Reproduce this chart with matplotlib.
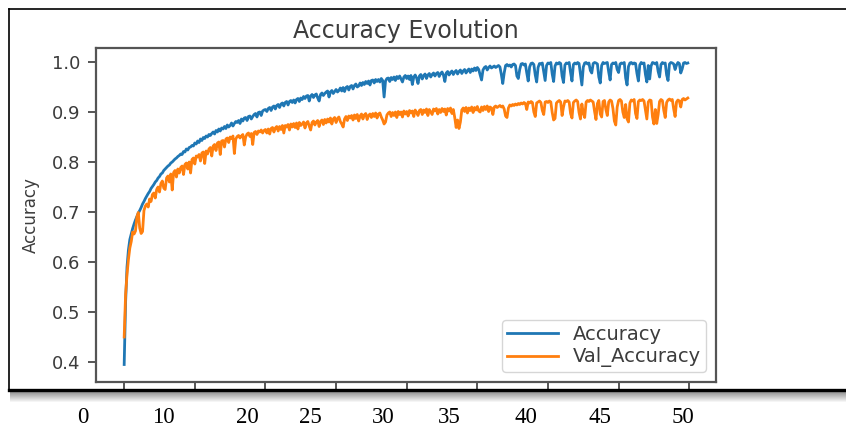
import matplotlib
matplotlib.use('Agg')
import matplotlib.pyplot as plt
from matplotlib.lines import Line2D
from matplotlib.patches import Rectangle

# training accuracy per step
accuracy = [
    0.395, 0.520, 0.590, 0.624, 0.645, 0.656, 0.667, 0.676, 0.684, 0.691, 0.698, 0.703, 0.709, 0.716, 0.721, 0.727, 0.732, 0.737, 0.741, 0.747,
    0.751, 0.755, 0.760, 0.763, 0.768, 0.771, 0.776, 0.778, 0.783, 0.786, 0.789, 0.792, 0.794, 0.798, 0.800, 0.803, 0.806, 0.808, 0.811, 0.813,
    0.816, 0.815, 0.821, 0.820, 0.826, 0.824, 0.829, 0.830, 0.833, 0.832, 0.838, 0.836, 0.842, 0.839, 0.846, 0.843, 0.849, 0.847, 0.852, 0.850,
    0.855, 0.853, 0.857, 0.860, 0.856, 0.863, 0.860, 0.866, 0.862, 0.868, 0.866, 0.871, 0.867, 0.874, 0.870, 0.873, 0.878, 0.872, 0.877, 0.881,
    0.879, 0.883, 0.877, 0.886, 0.882, 0.888, 0.889, 0.883, 0.891, 0.892, 0.886, 0.891, 0.895, 0.897, 0.890, 0.899, 0.900, 0.893, 0.902, 0.904,
    0.905, 0.901, 0.907, 0.909, 0.903, 0.910, 0.912, 0.906, 0.913, 0.915, 0.909, 0.916, 0.918, 0.912, 0.919, 0.921, 0.914, 0.921, 0.923, 0.919,
    0.924, 0.918, 0.925, 0.927, 0.921, 0.928, 0.925, 0.931, 0.927, 0.932, 0.933, 0.922, 0.932, 0.935, 0.929, 0.934, 0.936, 0.928, 0.922, 0.935,
    0.938, 0.933, 0.937, 0.940, 0.942, 0.930, 0.940, 0.943, 0.937, 0.941, 0.945, 0.940, 0.943, 0.948, 0.942, 0.949, 0.941, 0.949, 0.951, 0.944,
    0.951, 0.953, 0.946, 0.953, 0.956, 0.950, 0.952, 0.958, 0.953, 0.959, 0.955, 0.961, 0.957, 0.962, 0.954, 0.963, 0.964, 0.958, 0.965, 0.961,
    0.965, 0.960, 0.967, 0.963, 0.930, 0.962, 0.967, 0.968, 0.961, 0.969, 0.965, 0.970, 0.963, 0.971, 0.967, 0.972, 0.966, 0.960, 0.970, 0.973,
    0.967, 0.972, 0.965, 0.973, 0.955, 0.970, 0.974, 0.968, 0.957, 0.972, 0.975, 0.966, 0.973, 0.976, 0.967, 0.974, 0.977, 0.970, 0.975, 0.978,
    0.972, 0.977, 0.979, 0.971, 0.977, 0.980, 0.974, 0.961, 0.978, 0.981, 0.974, 0.979, 0.982, 0.975, 0.980, 0.983, 0.976, 0.981, 0.984, 0.977,
    0.982, 0.985, 0.978, 0.983, 0.986, 0.979, 0.986, 0.982, 0.988, 0.983, 0.989, 0.985, 0.974, 0.964, 0.984, 0.989, 0.991, 0.984, 0.989, 0.992,
    0.988, 0.990, 0.992, 0.989, 0.991, 0.993, 0.990, 0.975, 0.957, 0.978, 0.993, 0.995, 0.992, 0.994, 0.990, 0.995, 0.996, 0.993, 0.972, 0.967,
    0.985, 0.996, 0.997, 0.994, 0.996, 0.978, 0.962, 0.990, 0.997, 0.998, 0.995, 0.974, 0.960, 0.989, 0.997, 0.996, 0.998, 0.981, 0.963, 0.993,
    0.998, 0.997, 0.999, 0.976, 0.961, 0.992, 0.998, 0.996, 0.999, 0.997, 0.972, 0.959, 0.994, 0.998, 0.997, 0.999, 0.979, 0.962, 0.995, 0.998,
    0.996, 0.999, 0.997, 0.975, 0.954, 0.990, 0.998, 0.999, 0.996, 0.998, 0.983, 0.978, 0.997, 0.999, 0.998, 0.996, 0.970, 0.958, 0.993, 0.999,
    0.997, 0.998, 0.999, 0.980, 0.964, 0.995, 0.998, 0.997, 0.999, 0.985, 0.979, 0.996, 0.998, 0.997, 0.999, 0.968, 0.954, 0.991, 0.998, 0.999,
    0.996, 0.998, 0.997, 0.977, 0.962, 0.994, 0.999, 0.997, 0.998, 0.975, 0.960, 0.993, 0.966, 0.992, 0.999, 0.998, 0.996, 0.999, 0.981, 0.970,
    0.995, 0.999, 0.997, 0.998, 0.974, 0.963, 0.996, 0.999, 0.998, 0.996, 0.985, 0.994, 0.999, 0.997, 0.978, 0.986, 0.998, 0.999, 0.997, 0.998,
]

# validation accuracy per step
val_accuracy = [
    0.450, 0.535, 0.575, 0.605, 0.628, 0.641, 0.660, 0.656, 0.662, 0.690, 0.699, 0.668, 0.657, 0.661, 0.703, 0.712, 0.716, 0.710, 0.726, 0.721,
    0.735, 0.738, 0.728, 0.745, 0.750, 0.740, 0.757, 0.762, 0.748, 0.745, 0.768, 0.772, 0.760, 0.776, 0.744, 0.779, 0.783, 0.770, 0.786, 0.778,
    0.789, 0.792, 0.775, 0.795, 0.798, 0.786, 0.800, 0.778, 0.805, 0.808, 0.796, 0.812, 0.810, 0.815, 0.802, 0.818, 0.820, 0.797, 0.822, 0.816,
    0.826, 0.829, 0.812, 0.832, 0.835, 0.823, 0.838, 0.840, 0.815, 0.842, 0.843, 0.830, 0.846, 0.848, 0.839, 0.850, 0.847, 0.852, 0.817, 0.846,
    0.851, 0.853, 0.848, 0.852, 0.855, 0.834, 0.850, 0.856, 0.858, 0.851, 0.857, 0.835, 0.859, 0.861, 0.855, 0.862, 0.860, 0.864, 0.858, 0.863,
    0.865, 0.858, 0.866, 0.856, 0.867, 0.869, 0.860, 0.868, 0.871, 0.862, 0.871, 0.865, 0.873, 0.858, 0.873, 0.870, 0.875, 0.864, 0.876, 0.870,
    0.877, 0.869, 0.878, 0.866, 0.879, 0.873, 0.876, 0.880, 0.868, 0.878, 0.881, 0.872, 0.864, 0.879, 0.882, 0.874, 0.880, 0.883, 0.871, 0.881,
    0.884, 0.875, 0.885, 0.878, 0.886, 0.880, 0.888, 0.876, 0.886, 0.889, 0.879, 0.887, 0.890, 0.881, 0.876, 0.870, 0.886, 0.891, 0.883, 0.892,
    0.888, 0.893, 0.884, 0.894, 0.887, 0.895, 0.882, 0.892, 0.896, 0.886, 0.894, 0.897, 0.885, 0.893, 0.896, 0.889, 0.897, 0.891, 0.898, 0.888,
    0.896, 0.898, 0.890, 0.884, 0.876, 0.880, 0.894, 0.898, 0.900, 0.891, 0.899, 0.893, 0.900, 0.889, 0.901, 0.895, 0.900, 0.890, 0.902, 0.896,
    0.901, 0.892, 0.903, 0.898, 0.902, 0.891, 0.904, 0.899, 0.893, 0.903, 0.905, 0.895, 0.904, 0.899, 0.906, 0.893, 0.905, 0.900, 0.895, 0.906,
    0.902, 0.907, 0.896, 0.905, 0.899, 0.907, 0.901, 0.906, 0.894, 0.907, 0.902, 0.908, 0.897, 0.905, 0.889, 0.869, 0.884, 0.867, 0.880, 0.904,
    0.908, 0.901, 0.909, 0.898, 0.908, 0.903, 0.910, 0.899, 0.909, 0.904, 0.911, 0.902, 0.900, 0.910, 0.903, 0.911, 0.905, 0.912, 0.901, 0.910,
    0.908, 0.895, 0.910, 0.912, 0.909, 0.911, 0.913, 0.910, 0.912, 0.906, 0.892, 0.889, 0.908, 0.914, 0.912, 0.915, 0.913, 0.916, 0.914, 0.917,
    0.915, 0.918, 0.916, 0.919, 0.917, 0.905, 0.920, 0.918, 0.921, 0.919, 0.900, 0.891, 0.918, 0.920, 0.922, 0.919, 0.903, 0.895, 0.920, 0.921,
    0.919, 0.922, 0.920, 0.899, 0.884, 0.887, 0.918, 0.921, 0.923, 0.920, 0.893, 0.910, 0.922, 0.921, 0.923, 0.920, 0.897, 0.888, 0.919, 0.922,
    0.924, 0.921, 0.899, 0.886, 0.916, 0.898, 0.889, 0.920, 0.923, 0.921, 0.924, 0.922, 0.920, 0.901, 0.885, 0.917, 0.923, 0.896, 0.890, 0.921,
    0.923, 0.905, 0.893, 0.920, 0.924, 0.922, 0.907, 0.882, 0.874, 0.910, 0.923, 0.925, 0.922, 0.900, 0.889, 0.915, 0.886, 0.880, 0.918, 0.924,
    0.922, 0.925, 0.897, 0.887, 0.921, 0.924, 0.923, 0.925, 0.922, 0.904, 0.886, 0.920, 0.924, 0.923, 0.890, 0.876, 0.905, 0.877, 0.895, 0.921,
    0.925, 0.923, 0.903, 0.889, 0.919, 0.924, 0.926, 0.923, 0.925, 0.906, 0.891, 0.920, 0.924, 0.922, 0.910, 0.925, 0.927, 0.924, 0.926, 0.928,
]

steps = list(range(len(accuracy)))
series_labels = ['Accuracy', 'Val_Accuracy']
x_ticks = [0, 50, 100, 150, 200, 250, 300, 350, 400]
y_ticks = [0.4, 0.5, 0.6, 0.7, 0.8, 0.9, 1.0]
# the serif numbers written under the framed picture
bottom_labels = ['0', '10', '20', '25', '30', '35', '40', '45', '50']
bottom_label_px = [83, 163, 247, 310, 383, 449, 526, 600, 683]

W, H = 846, 428
TXT = '#3c3c3c'


def fx(px):
    return px / W


def fy(py):
    return 1 - py / H


fig = plt.figure(figsize=(W / 100, H / 100), dpi=100)
ax = fig.add_axes([fx(96), fy(382), 620 / W, 334 / H])

ax.plot(steps, accuracy, color='#1f77b4', lw=2.0, label=series_labels[0])
ax.plot(steps, val_accuracy, color='#ff7f0e', lw=2.0, label=series_labels[1])

ax.set_xlim(-19.95, 418.95)
ax.set_ylim(0.36, 1.028)
ax.set_xticks(x_ticks)
ax.set_xticklabels([])
ax.set_yticks(y_ticks)
ax.tick_params(axis='both', length=6, width=1.4, color='#555555',
               labelsize=13, labelcolor=TXT, pad=5)
for sp in ax.spines.values():
    sp.set_color('#555555')
    sp.set_linewidth(1.6)

ax.set_title('Accuracy Evolution', fontsize=17, color=TXT, pad=7)
ax.set_ylabel('Accuracy', fontsize=12, color=TXT)
ax.yaxis.set_label_coords(-0.09, 0.5)

leg = ax.legend(loc='lower right', fontsize=14, labelspacing=0.2,
                borderpad=0.25, handlelength=2.6, handletextpad=0.8,
                borderaxespad=0.5)
for t in leg.get_texts():
    t.set_color(TXT)

# black frame round the picture, with a soft shadow under it
for k in range(12):
    g = 0.55 + 0.45 * k / 11
    fig.add_artist(Rectangle((fx(10), fy(392 + k)), 1 - fx(10), 1 / H,
                             transform=fig.transFigure, color=(g, g, g), lw=0))
fig.add_artist(Line2D([fx(9), 1], [fy(9), fy(9)], color='black', lw=1.2,
                      transform=fig.transFigure))
fig.add_artist(Line2D([fx(9), fx(9)], [fy(9), fy(390)], color='black', lw=1.2,
                      transform=fig.transFigure))
fig.add_artist(Line2D([fx(9), 1], [fy(390), fy(390)], color='black', lw=2.4,
                      transform=fig.transFigure))

for lab, px in zip(bottom_labels, bottom_label_px):
    fig.text(fx(px), fy(423), lab, ha='center', va='baseline',
             family='Liberation Serif', fontsize=16.5, color='black')

fig.savefig('out.png', dpi=100)
